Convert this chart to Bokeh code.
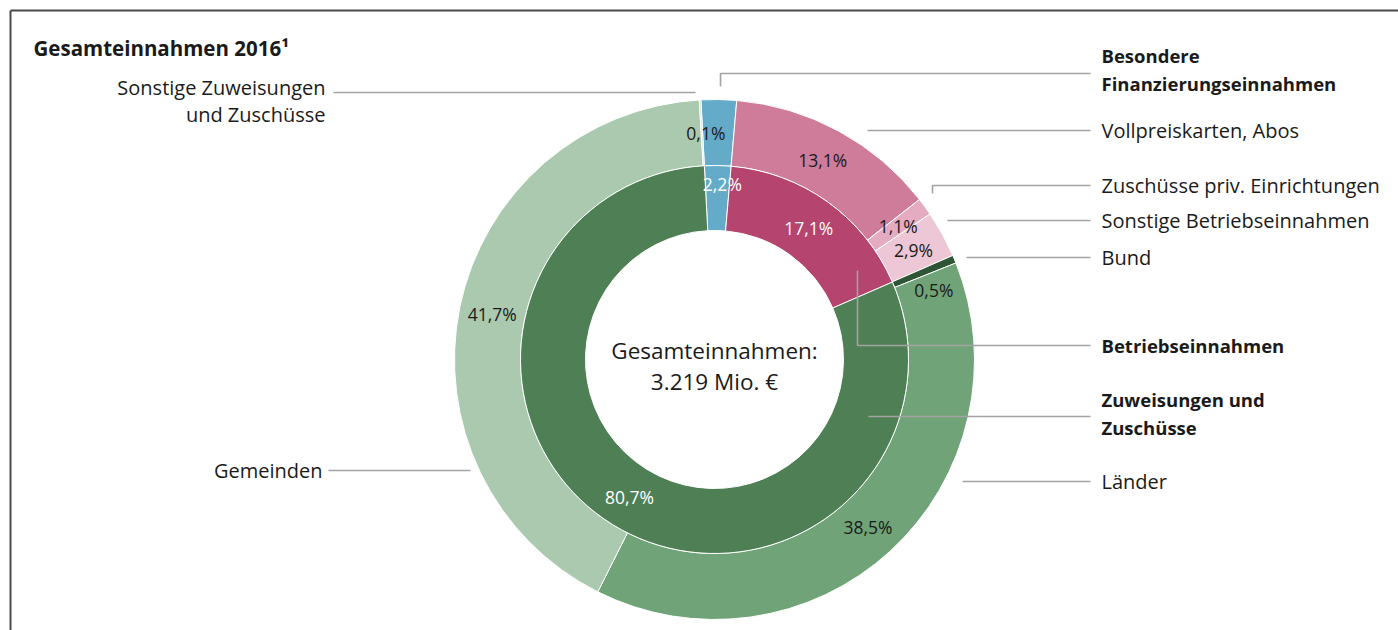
import math
from bokeh.plotting import figure
from bokeh.models import Range1d, ColumnDataSource
from bokeh.core.properties import value
from bokeh.embed import file_html
from bokeh.resources import INLINE

# ---------------- data ----------------
outer_names = ["Besondere Finanzierungseinnahmen", "Vollpreiskarten, Abos",
               "Zuschüsse priv. Einrichtungen", "Sonstige Betriebseinnahmen",
               "Bund", "Länder", "Gemeinden", "Sonstige Zuweisungen und Zuschüsse"]
outer_values = [2.2, 13.1, 1.1, 2.9, 0.5, 38.5, 41.7, 0.1]
outer_labels = ["", "13,1%", "1,1%", "2,9%", "0,5%", "38,5%", "41,7%", "0,1%"]

inner_names = ["Besondere Finanzierungseinnahmen", "Betriebseinnahmen", "Zuweisungen und Zuschüsse"]
inner_values = [2.2, 17.1, 80.7]
inner_labels = ["2,2%", "17,1%", "80,7%"]

total_text = ["Gesamteinnahmen:", "3.219 Mio. €"]
title_text = "Gesamteinnahmen 2016¹"

# ---------------- styles ----------------
outer_colors = ["#64abc9", "#cf7b9a", "#e4abc1", "#edc7d5", "#2e5535", "#70a377", "#aac9ae", "#c9ddcb"]
inner_colors = ["#64abc9", "#b5446e", "#4f7f55"]
# per-label fine offsets (clock degrees, radius px)
outer_lab_adj = [(0, 0), (0, 0), (0, 0), (0, 0), (5.2, 3), (0, 0), (0, 0), (1.0, 0)]
inner_lab_adj = [(1.6, 14), (0, 0), (0, 0)]

W, H = 1398, 630
def X(sx):
    return sx
def Y(sy):
    return H - sy

CX, CY = X(714), Y(359)
R_HOLE, R_MID, R_OUT = 129, 194, 260
START = -3.0  # clock degrees

FONT = value("Open Sans")
TXT = "#1a1a1a"
LINE = "#a3a3a3"

p = figure(width=W, height=H, x_range=Range1d(0, W), y_range=Range1d(0, H),
           output_backend="svg", toolbar_location=None, min_border=0)
p.axis.visible = False
p.xgrid.visible = False
p.ygrid.visible = False
p.outline_line_color = None
p.background_fill_color = "white"
p.border_fill_color = "white"


def ring(values, colors, r0, r1, labels, adj, lab_color):
    tot = sum(values)
    a = START
    sa, ea = [], []
    lx, ly = [], []
    for v, (dth, dr) in zip(values, adj):
        span = v / tot * 360.0
        t1, t2 = a, a + span
        sa.append(math.radians(90 - t2))
        ea.append(math.radians(90 - t1))
        mid = (t1 + t2) / 2 + dth
        rr = (r0 + r1) / 2 + dr
        lx.append(CX + rr * math.sin(math.radians(mid)))
        ly.append(CY + rr * math.cos(math.radians(mid)))
        a = t2
    src = ColumnDataSource(dict(x=[CX] * len(values), y=[CY] * len(values),
                                sa=sa, ea=ea, c=colors))
    p.annular_wedge(x="x", y="y", inner_radius=r0, outer_radius=r1,
                    start_angle="sa", end_angle="ea", fill_color="c",
                    line_color="white", line_width=1, direction="anticlock", source=src)
    keep = [i for i, t in enumerate(labels) if t]
    p.text(x=[lx[i] for i in keep], y=[ly[i] for i in keep], text=[labels[i] for i in keep],
           text_font=FONT, text_font_size="17.5px", text_color=lab_color,
           text_align="center", text_baseline="middle")

ring(outer_values, outer_colors, R_MID, R_OUT, outer_labels, outer_lab_adj, TXT)
ring(inner_values, inner_colors, R_HOLE, R_MID, inner_labels, inner_lab_adj, "white")

# center text
p.text(x=[CX, CX], y=[Y(350), Y(381)], text=total_text, text_font=FONT,
       text_font_size="22.5px", text_color=TXT, text_align="center", text_baseline="middle")

# leader lines (screen coords)
leaders = [
    [(333, 92), (695, 92)],
    [(720, 86), (720, 73), (1090, 73)],
    [(867, 130), (1090, 130)],
    [(932, 193), (932, 185), (1090, 185)],
    [(947, 220), (1090, 220)],
    [(966, 257), (1090, 257)],
    [(857, 270), (857, 345), (1090, 345)],
    [(868, 416), (1090, 416)],
    [(962, 481), (1090, 481)],
    [(328, 470), (470, 470)],
]
p.multi_line(xs=[[X(a) for a, b in l] for l in leaders],
             ys=[[Y(b) for a, b in l] for l in leaders],
             line_color=LINE, line_width=1.6)

# right labels
right_regular = [("Vollpreiskarten, Abos", 130), ("Zuschüsse priv. Einrichtungen", 185),
                 ("Sonstige Betriebseinnahmen", 220), ("Bund", 257), ("Länder", 481)]
right_bold = [("Besondere", 55), ("Finanzierungseinnahmen", 83), ("Betriebseinnahmen", 345),
              ("Zuweisungen und", 399), ("Zuschüsse", 427)]
p.text(x=[X(1101)] * len(right_regular), y=[Y(b) for a, b in right_regular],
       text=[a for a, b in right_regular], text_font=FONT, text_font_size="20px",
       text_color=TXT, text_align="left", text_baseline="middle")
p.text(x=[X(1101)] * len(right_bold), y=[Y(b) for a, b in right_bold],
       text=[a for a, b in right_bold], text_font=FONT, text_font_size="18.5px",
       text_font_style="bold", text_color=TXT, text_align="left", text_baseline="middle")

# left labels
left_labels = [("Sonstige Zuweisungen", 325, 87), ("und Zuschüsse", 325, 114), ("Gemeinden", 322, 470)]
p.text(x=[X(a) for t, a, b in left_labels], y=[Y(b) for t, a, b in left_labels],
       text=[t for t, a, b in left_labels], text_font=FONT, text_font_size="20px",
       text_color=TXT, text_align="right", text_baseline="middle")

# title
p.text(x=[X(33)], y=[Y(47)], text=[title_text], text_font=FONT, text_font_size="20.5px",
       text_font_style="bold", text_color=TXT, text_align="left", text_baseline="middle")

# frame (left and top border)
p.multi_line(xs=[[X(10), X(10)], [X(10), X(1398)]], ys=[[Y(630), Y(10)], [Y(10), Y(10)]],
             line_color="#4a4a4a", line_width=2)

open("out.html", "w").write(file_html(p, INLINE))
